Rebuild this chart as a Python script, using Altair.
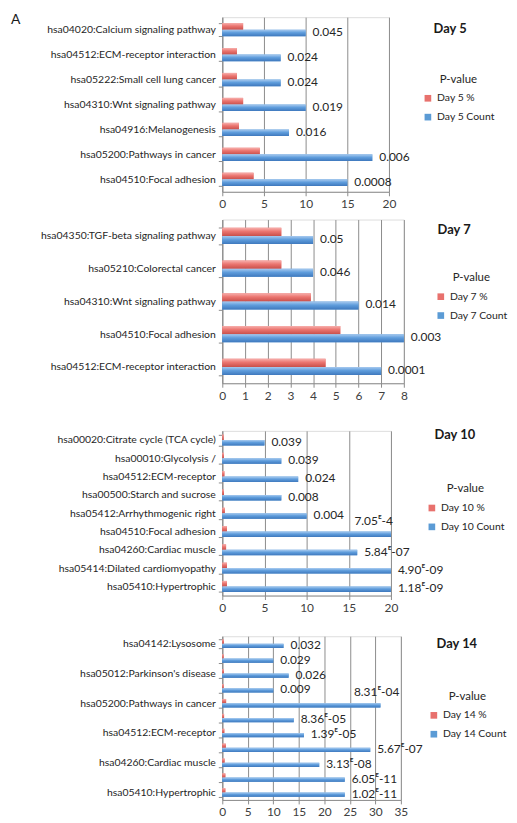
import json
import altair as alt
import pandas as pd

FONT = "Lato"
RED = "#E8716D"
BLUE = "#5B9BD5"
GRID = "#8c8c8c"
TXT = "#262626"

# ---------------- data ----------------
d5_terms = ["hsa04020:Calcium signaling pathway", "hsa04512:ECM-receptor interaction",
            "hsa05222:Small cell lung cancer", "hsa04310:Wnt signaling pathway",
            "hsa04916:Melanogenesis", "hsa05200:Pathways in cancer", "hsa04510:Focal adhesion"]
d5_count = [10, 7, 7, 10, 8, 18, 15]
d5_pct = [2.5, 1.75, 1.75, 2.5, 2.0, 4.5, 3.75]
d5_p = ["0.045", "0.024", "0.024", "0.019", "0.016", "0.006", "0.0008"]

d7_terms = ["hsa04350:TGF-beta signaling pathway", "hsa05210:Colorectal cancer",
            "hsa04310:Wnt signaling pathway", "hsa04510:Focal adhesion",
            "hsa04512:ECM-receptor interaction"]
d7_count = [4, 4, 6, 8, 7]
d7_pct = [2.6, 2.6, 3.9, 5.2, 4.55]
d7_p = ["0.05", "0.046", "0.014", "0.003", "0.0001"]

d10_terms = ["hsa00020:Citrate cycle (TCA cycle)", "hsa00010:Glycolysis /", "hsa04512:ECM-receptor",
             "hsa00500:Starch and sucrose", "hsa05412:Arrhythmogenic right", "hsa04510:Focal adhesion",
             "hsa04260:Cardiac muscle", "hsa05414:Dilated cardiomyopathy", "hsa05410:Hypertrophic"]
d10_count = [5, 7, 9, 7, 10, 20, 16, 20, 20]
d10_pct = [0.15, 0.2, 0.25, 0.2, 0.3, 0.55, 0.45, 0.55, 0.55]
d10_p = ["0.039", "0.039", "0.024", "0.008", "0.004", "7.05ᴱ-4", "5.84ᴱ-07", "4.90ᴱ-09", "1.18ᴱ-09"]

d14_terms = ["hsa04142:Lysosome", "", "hsa05012:Parkinson's disease", "", "hsa05200:Pathways in cancer",
             "", "hsa04512:ECM-receptor", "", "hsa04260:Cardiac muscle", "", "hsa05410:Hypertrophic"]
d14_count = [12, 10, 13, 10, 31, 14, 16, 29, 19, 24, 24]
d14_pct = [0.3, 0.25, 0.32, 0.25, 0.75, 0.35, 0.4, 0.7, 0.45, 0.6, 0.6]
d14_p = ["0.032", "0.029", "0.026", "0.009", "8.31ᴱ-04", "8.36ᴱ-05", "1.39ᴱ-05",
         "5.67ᴱ-07", "3.13ᴱ-08", "6.05ᴱ-11", "1.02ᴱ-11"]

AXIS_EXT = 215


def grad(c0, c1, c2):
    return alt.Gradient(gradient="linear", x1=0, x2=0, y1=0, y2=1,
                        stops=[alt.GradientStop(color=c0, offset=0),
                               alt.GradientStop(color=c1, offset=0.45),
                               alt.GradientStop(color=c2, offset=1)])


def panel(day, terms, counts, pcts, pvals, xmax, step, width, height, pad,
          above, x_extent, title_xy, legend_xy, letter=False):
    pct_lab = f"Day {day} %"
    cnt_lab = f"Day {day} Count"
    n = len(terms)
    rows = []
    for i in range(n):
        rows.append({"idx": i, "series": pct_lab, "value": pcts[i]})
        rows.append({"idx": i, "series": cnt_lab, "value": counts[i]})
    bars_df = pd.DataFrame(rows)
    lab_df = pd.DataFrame({"idx": list(range(n)), "series": [cnt_lab] * n,
                           "value": counts, "p": pvals})

    label_expr = json.dumps(terms, ensure_ascii=False) + "[datum.value]"
    y = alt.Y("idx:O", title=None,
              scale=alt.Scale(paddingInner=pad, paddingOuter=pad / 2),
              axis=alt.Axis(labelExpr=label_expr, labelFont=FONT, labelFontSize=10.5,
                            labelColor=TXT, tickBand="extent", tickColor=GRID, tickSize=4,
                            domainColor=GRID, labelPadding=3, labelLimit=240,
                            minExtent=AXIS_EXT, maxExtent=AXIS_EXT))
    x = alt.X("value:Q", title=None, scale=alt.Scale(domain=[0, xmax], nice=False),
              axis=alt.Axis(values=list(range(0, xmax + 1, step)), grid=True, gridColor=GRID,
                            domainColor=GRID, tickColor=GRID, tickSize=4, labelFont=FONT,
                            labelFontSize=12, labelColor="#404040", labelPadding=3,
                            minExtent=x_extent, labelFlush=False))
    yoff = alt.YOffset("series:N", scale=alt.Scale(domain=[pct_lab, cnt_lab]))

    base = alt.Chart(bars_df).mark_bar().encode(
        x=x, y=y, yOffset=yoff,
        color=alt.Color("series:N",
                        scale=alt.Scale(domain=[pct_lab, cnt_lab], range=[RED, BLUE]),
                        legend=alt.Legend(title="P-value", orient="none",
                                          legendX=width + legend_xy[0], legendY=legend_xy[1],
                                          symbolType="square", symbolSize=45,
                                          symbolStrokeWidth=0, labelFont=FONT,
                                          labelFontSize=10.5, labelColor=TXT, titleFont=FONT,
                                          titleFontSize=11.5, titleFontWeight="normal",
                                          titleColor=TXT, titleAnchor="middle",
                                          labelOffset=4, rowPadding=8, titlePadding=8)))
    red_top = alt.Chart(bars_df).transform_filter(alt.datum.series == pct_lab).mark_bar(
        color=grad("#F7B0AD", "#EB7570", "#C9504B")).encode(x=x, y=y, yOffset=yoff)
    blue_top = alt.Chart(bars_df).transform_filter(alt.datum.series == cnt_lab).mark_bar(
        color=grad("#A9CBF0", "#5F9DDC", "#3E78BD")).encode(x=x, y=y, yOffset=yoff)

    normal = lab_df[~lab_df["idx"].isin(list(above.keys()))]
    layers = [base, red_top, blue_top]
    layers.append(alt.Chart(normal).mark_text(align="left", baseline="middle", dx=7, dy=-1,
                                              font=FONT, fontSize=12, color=TXT).encode(
        x=x, y=y, yOffset=yoff, text="p:N"))
    for k, dx in above.items():
        sub = lab_df[lab_df["idx"] == k]
        layers.append(alt.Chart(sub).mark_text(align="right", baseline="middle", dx=dx, dy=-13,
                                               font=FONT, fontSize=12, color=TXT).encode(
            x=x, y=y, yOffset=yoff, text="p:N"))
    layers.append(alt.Chart(pd.DataFrame({"t": [f"Day {day}"]})).mark_text(
        align="left", baseline="middle", font=FONT, fontSize=13, fontWeight="bold",
        color="#1a1a1a").encode(text="t:N", x=alt.value(width + title_xy[0]),
                                y=alt.value(title_xy[1])))
    if letter:
        layers.append(alt.Chart(pd.DataFrame({"t": ["A"]})).mark_text(
            align="left", baseline="middle", font=FONT, fontSize=14, color="#1a1a1a").encode(
            text="t:N", x=alt.value(-AXIS_EXT + 2), y=alt.value(3)))
    return alt.layer(*layers).properties(width=width, height=height)


p5 = panel(5, d5_terms, d5_count, d5_pct, d5_p, 20, 5, 168, 176, 0.47, {}, 20,
           (45, 12), (34, 57), letter=True)
p7 = panel(7, d7_terms, d7_count, d7_pct, d7_p, 8, 1, 183, 165, 0.5, {}, 40,
           (34, 11), (32, 53))
p10 = panel(10, d10_terms, d10_count, d10_pct, d10_p, 20, 5, 170, 166, 0.4, {5: 2}, 33,
            (44, 4), (36, 53))
p14 = panel(14, d14_terms, d14_count, d14_pct, d14_p, 35, 5, 180, 165, 0.43, {4: 19}, 19,
            (36, 8), (28, 55))

chart = alt.vconcat(p5, p7, p10, p14, spacing=1).resolve_scale(
    color="independent", yOffset="independent", x="independent", y="independent"
).properties(padding={"left": 0, "top": 0, "right": 0, "bottom": 0}).configure_view(
    stroke=None).configure(background="white")

chart.save("out.html", embed_options={"renderer": "svg", "actions": False})
